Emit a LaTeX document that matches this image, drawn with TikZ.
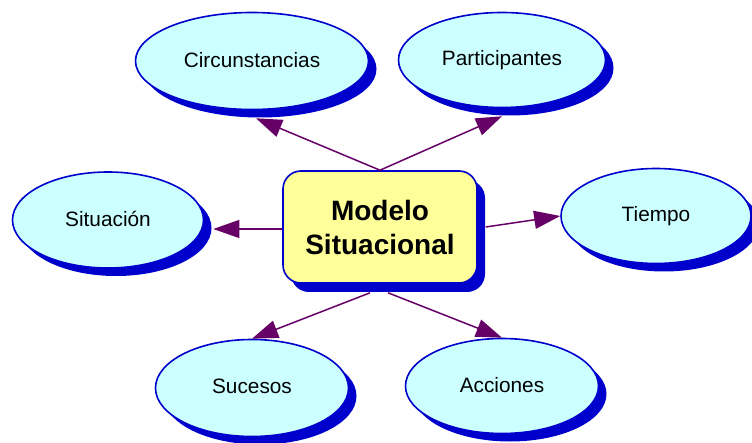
\documentclass[tikz,border=0pt]{standalone}
\usepackage{fontspec}
\setmainfont{Liberation Sans}
\usetikzlibrary{shapes.geometric,shadows,arrows.meta}
\definecolor{bordblue}{HTML}{0000CC}
\definecolor{ellfill}{HTML}{CCFFFF}
\definecolor{boxfill}{HTML}{FFFF99}
\definecolor{arrowpurple}{HTML}{660066}
\tikzset{
  concept/.style={ellipse, draw=bordblue, line width=1.6pt, fill=ellfill,
    inner sep=0pt, font=\fontsize{20.8}{24}\selectfont,
    drop shadow={shadow xshift=8pt, shadow yshift=-8pt, fill=bordblue, opacity=1}},
  mainbox/.style={rectangle, rounded corners=18pt, draw=bordblue, line width=1.6pt,
    fill=boxfill, minimum width=194pt, minimum height=112pt, align=center,
    font=\fontsize{28}{34}\selectfont\bfseries,
    drop shadow={shadow xshift=8pt, shadow yshift=-9pt, fill=bordblue, opacity=1}},
  link/.style={draw=arrowpurple, line width=1.5pt,
    -{Triangle[length=26pt,width=18pt]}}
}
\begin{document}
\begin{tikzpicture}[x=1pt,y=-1pt]
\useasboundingbox (0,0) rectangle (752,443);
\node[mainbox] (mc) at (380,227) {Modelo\\Situacional};
\node[concept, minimum width=233pt, minimum height=97pt] (circ) at (252,61) {\raisebox{3pt}{Circunstancias}};
\node[concept, minimum width=207pt, minimum height=95pt] (part) at (502,60) {\raisebox{3pt}{Participantes}};
\node[concept, minimum width=191pt, minimum height=96pt] (sit) at (108,220) {\raisebox{3pt}{Situación}};
\node[concept, minimum width=190pt, minimum height=95pt] (tie) at (656,216) {\raisebox{3pt}{Tiempo}};
\node[concept, minimum width=193pt, minimum height=97pt] (suc) at (252,388) {\raisebox{3pt}{Sucesos}};
\node[concept, minimum width=193pt, minimum height=95pt] (acc) at (502,386) {\raisebox{3pt}{Acciones}};
\draw[link] (mc.north) -- ([xshift=4pt,yshift=-8pt]circ.south);
\draw[link] (mc.north) -- ([yshift=-8pt]part.south);
\draw[link] ([yshift=-2pt]mc.west) -- ([xshift=9pt,yshift=-2pt]mc.west -| sit.east);
\draw[link] ([xshift=8pt]mc.east) -- (tie.west);
\draw[link] ([xshift=-10pt,yshift=-9pt]mc.south) -- (suc.north);
\draw[link] ([xshift=8pt,yshift=-9pt]mc.south) -- (acc.north);
\end{tikzpicture}
\end{document}
